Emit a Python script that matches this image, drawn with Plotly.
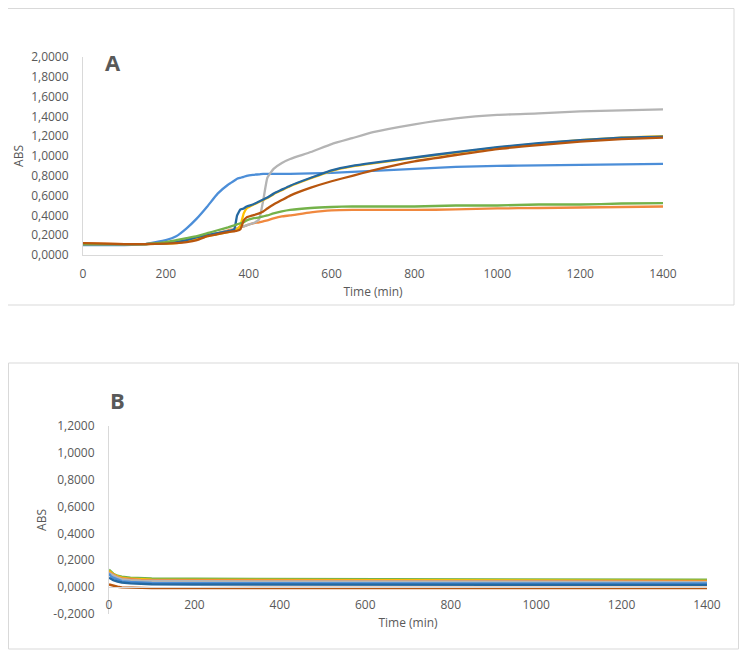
import plotly.graph_objects as go

# page body has an 8px default margin, so the figure is sized to fit the window
PAGE_W, PAGE_H = 747, 658
OFF = 8
W, H = PAGE_W - 2 * OFF, PAGE_H - 2 * OFF

# ---------------- Panel A data ----------------
T_A = [0, 50, 100, 150, 200, 225, 250, 275, 300, 325, 350, 365, 372, 380, 388, 395,
       410, 425, 435, 445, 460, 480, 500, 550, 600, 650, 700, 800, 900, 1000, 1100,
       1200, 1300, 1400]

A_blue = [0.10, 0.10, 0.10, 0.11, 0.15, 0.19, 0.27, 0.37, 0.49, 0.62, 0.71, 0.75, 0.77,
          0.78, 0.79, 0.80, 0.81, 0.815, 0.82, 0.82, 0.82, 0.82, 0.82, 0.825, 0.83, 0.84,
          0.85, 0.87, 0.89, 0.90, 0.905, 0.91, 0.915, 0.92]
A_orange = [0.12, 0.115, 0.11, 0.11, 0.12, 0.13, 0.15, 0.18, 0.20, 0.22, 0.25, 0.26, 0.27,
            0.28, 0.29, 0.30, 0.32, 0.33, 0.34, 0.35, 0.37, 0.39, 0.40, 0.43, 0.45, 0.455,
            0.455, 0.455, 0.46, 0.47, 0.475, 0.48, 0.485, 0.49]
A_gray = [0.11, 0.11, 0.11, 0.11, 0.12, 0.13, 0.15, 0.18, 0.20, 0.22, 0.24, 0.26, 0.27,
          0.28, 0.29, 0.30, 0.32, 0.36, 0.55, 0.78, 0.87, 0.93, 0.97, 1.04, 1.12, 1.18,
          1.24, 1.32, 1.38, 1.415, 1.43, 1.45, 1.46, 1.47]
A_yellow = [0.11, 0.11, 0.11, 0.11, 0.115, 0.12, 0.14, 0.16, 0.19, 0.21, 0.23, 0.25, 0.26,
            0.30, 0.42, 0.47, 0.505, 0.535, 0.555, 0.575, 0.615, 0.655, 0.695, 0.775,
            0.85, 0.895, 0.925, 0.98, 1.035, 1.085, 1.125, 1.16, 1.185, 1.20]
A_darkblue = [0.11, 0.11, 0.11, 0.11, 0.12, 0.13, 0.15, 0.18, 0.20, 0.22, 0.24, 0.26, 0.40,
              0.46, 0.47, 0.49, 0.51, 0.54, 0.56, 0.58, 0.62, 0.66, 0.70, 0.78, 0.855,
              0.90, 0.93, 0.985, 1.04, 1.09, 1.13, 1.16, 1.185, 1.195]
A_green = [0.11, 0.11, 0.11, 0.11, 0.13, 0.15, 0.17, 0.19, 0.22, 0.25, 0.28, 0.30, 0.31,
           0.32, 0.33, 0.35, 0.37, 0.38, 0.39, 0.40, 0.42, 0.44, 0.455, 0.475, 0.485,
           0.49, 0.49, 0.49, 0.50, 0.50, 0.51, 0.51, 0.52, 0.525]
A_brown = [0.12, 0.115, 0.11, 0.11, 0.115, 0.12, 0.13, 0.15, 0.19, 0.21, 0.23, 0.24, 0.245,
           0.26, 0.35, 0.38, 0.40, 0.42, 0.44, 0.47, 0.51, 0.555, 0.60, 0.68, 0.745, 0.80,
           0.855, 0.945, 1.01, 1.07, 1.11, 1.145, 1.17, 1.185]

# ---------------- Panel B data ----------------
T_B = [0, 5, 10, 20, 30, 50, 75, 100, 200, 400, 600, 800, 1000, 1200, 1400]

B_green = [0.13, 0.115, 0.10, 0.085, 0.078, 0.070, 0.066, 0.064, 0.062, 0.060, 0.058,
           0.057, 0.056, 0.055, 0.055]
B_yellow = [0.12, 0.105, 0.095, 0.08, 0.07, 0.062, 0.058, 0.056, 0.054, 0.052, 0.050,
            0.049, 0.048, 0.047, 0.047]
B_orange = [0.11, 0.10, 0.09, 0.075, 0.065, 0.058, 0.054, 0.052, 0.050, 0.048, 0.046,
            0.045, 0.044, 0.043, 0.042]
B_gray = [0.105, 0.095, 0.085, 0.07, 0.06, 0.052, 0.048, 0.046, 0.044, 0.042, 0.040,
          0.039, 0.038, 0.038, 0.037]
B_blue = [0.10, 0.08, 0.07, 0.055, 0.045, 0.038, 0.034, 0.032, 0.030, 0.029, 0.028,
          0.028, 0.027, 0.027, 0.027]
B_darkblue = [0.07, 0.06, 0.052, 0.042, 0.035, 0.028, 0.024, 0.022, 0.020, 0.019, 0.018,
              0.018, 0.017, 0.017, 0.017]
B_brown = [0.02, 0.015, 0.01, 0.003, -0.002, -0.005, -0.006, -0.007, -0.007, -0.007,
           -0.007, -0.006, -0.006, -0.006, -0.006]

X_TICKS = [0, 200, 400, 600, 800, 1000, 1200, 1400]
YA_TICKS = [0, 0.2, 0.4, 0.6, 0.8, 1.0, 1.2, 1.4, 1.6, 1.8, 2.0]
YA_TEXT = ["0,0000", "0,2000", "0,4000", "0,6000", "0,8000", "1,0000", "1,2000",
           "1,4000", "1,6000", "1,8000", "2,0000"]
YB_TICKS = [-0.2, 0, 0.2, 0.4, 0.6, 0.8, 1.0, 1.2]
YB_TEXT = ["-0,2000", "0,0000", "0,2000", "0,4000", "0,6000", "0,8000", "1,0000", "1,2000"]

C_BLUE = "#4C8ED8"
C_ORANGE = "#F0883E"
C_GRAY = "#B4B4B4"
C_YELLOW = "#FFC000"
C_DARKBLUE = "#2468A0"
C_GREEN = "#74B24A"
C_BROWN = "#B8560E"

TXT = "#595959"
AXC = "#D9D9D9"
FONT = "Open Sans"

fig = go.Figure()

seriesA = [(A_blue, C_BLUE), (A_orange, C_ORANGE), (A_gray, C_GRAY), (A_yellow, C_YELLOW),
           (A_darkblue, C_DARKBLUE), (A_green, C_GREEN), (A_brown, C_BROWN)]
for ys, c in seriesA:
    fig.add_trace(go.Scatter(x=T_A, y=ys, mode="lines",
                             line=dict(color=c, width=2.3, shape="spline", smoothing=0.4),
                             xaxis="x", yaxis="y", showlegend=False, hoverinfo="skip"))

seriesB = [(B_green, C_GREEN), (B_yellow, C_YELLOW), (B_orange, C_ORANGE), (B_gray, C_GRAY),
           (B_blue, C_BLUE), (B_darkblue, C_DARKBLUE), (B_brown, C_BROWN)]
for ys, c in seriesB:
    fig.add_trace(go.Scatter(x=T_B, y=ys, mode="lines", line=dict(color=c, width=2.4),
                             xaxis="x2", yaxis="y2", showlegend=False, hoverinfo="skip"))


def px_x(p):
    return (p - OFF) / W


def px_y(p):
    return 1 - (p - OFF) / H


axis_font = dict(family=FONT, size=12, color=TXT)
title_font = dict(family=FONT, size=12, color=TXT)

fig.update_layout(
    width=W, height=H,
    margin=dict(l=0, r=0, t=0, b=0),
    paper_bgcolor="white", plot_bgcolor="white",
    font=dict(family=FONT, color=TXT),
    xaxis=dict(domain=[px_x(83), px_x(663)], range=[0, 1400], anchor="y", automargin=False,
               tickvals=X_TICKS, showgrid=False, zeroline=False, showline=True,
               linecolor=AXC, linewidth=1, ticks="", tickfont=axis_font,
               ticklabelstandoff=8,
               title=dict(text="Time (min)", font=title_font, standoff=6)),
    yaxis=dict(domain=[px_y(255), px_y(57)], range=[0, 2.0], anchor="x", automargin=False,
               tickvals=YA_TICKS, ticktext=YA_TEXT, showgrid=False, zeroline=False,
               showline=True, linecolor=AXC, linewidth=1, ticks="", tickfont=axis_font,
               ticklabelstandoff=11,
               title=dict(text="ABS", font=title_font, standoff=4)),
    xaxis2=dict(domain=[px_x(109), px_x(707)], range=[0, 1400], anchor="free",
                position=px_y(587), automargin=False,
                tickvals=X_TICKS, showgrid=False, zeroline=False, showline=True,
                linecolor=AXC, linewidth=1, ticks="", tickfont=axis_font,
                ticklabelstandoff=7,
                title=dict(text="Time (min)", font=title_font, standoff=6)),
    yaxis2=dict(domain=[px_y(614), px_y(426)], range=[-0.2, 1.2], anchor="x2", automargin=False,
                tickvals=YB_TICKS, ticktext=YB_TEXT, showgrid=False, zeroline=False,
                showline=True, linecolor=AXC, linewidth=1, ticks="", tickfont=axis_font,
                ticklabelstandoff=11,
                title=dict(text="ABS", font=title_font, standoff=4)),
    shapes=[
        dict(type="rect", xref="paper", yref="paper", x0=px_x(7.5), x1=px_x(734),
             y0=px_y(305), y1=px_y(8.5), line=dict(color=AXC, width=1),
             fillcolor="rgba(0,0,0,0)", layer="below"),
        dict(type="rect", xref="paper", yref="paper", x0=px_x(8.5), x1=px_x(738.5),
             y0=px_y(649), y1=px_y(363), line=dict(color=AXC, width=1),
             fillcolor="rgba(0,0,0,0)", layer="below"),
    ],
    annotations=[
        dict(text="<b>A</b>", xref="paper", yref="paper", x=px_x(103), y=px_y(45),
             showarrow=False, font=dict(family=FONT, size=22, color=TXT)),
        dict(text="<b>B</b>", xref="paper", yref="paper", x=px_x(108), y=px_y(400),
             showarrow=False, font=dict(family=FONT, size=22, color=TXT)),
    ],
)

fig.write_html("out.html")
